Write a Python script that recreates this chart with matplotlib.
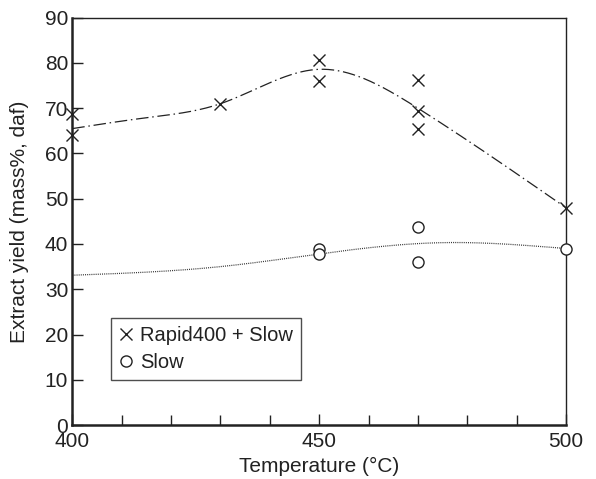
import numpy as np
import matplotlib
matplotlib.use("Agg")
import matplotlib.pyplot as plt
from matplotlib.ticker import MultipleLocator

plt.rcParams['font.family'] = ['Liberation Sans', 'DejaVu Sans']

# Measured extract yields (mass%, daf)
rapid_temp = [400, 400, 430, 450, 450, 470, 470, 470, 500]
rapid_yield = [68.7, 64.1, 71.0, 80.6, 76.0, 76.2, 69.4, 65.4, 47.9]

slow_temp = [450, 450, 470, 470, 500]
slow_yield = [38.8, 37.9, 43.7, 36.0, 38.9]

# Trend-line nodes
rapid_fit_temp = [400, 415, 430, 450, 470, 500]
rapid_fit_yield = [65.5, 67.9, 71.0, 78.6, 70.0, 48.0]
slow_fit_temp = [400, 430, 450, 475, 500]
slow_fit_yield = [33.1, 35.0, 37.8, 40.3, 39.0]


def natural_spline(xk, yk, xs):
    xk = np.asarray(xk, float)
    yk = np.asarray(yk, float)
    n = len(xk)
    h = np.diff(xk)
    A = np.zeros((n, n))
    b = np.zeros(n)
    A[0, 0] = A[-1, -1] = 1.0
    for i in range(1, n - 1):
        A[i, i - 1] = h[i - 1]
        A[i, i] = 2 * (h[i - 1] + h[i])
        A[i, i + 1] = h[i]
        b[i] = 6 * ((yk[i + 1] - yk[i]) / h[i] - (yk[i] - yk[i - 1]) / h[i - 1])
    M = np.linalg.solve(A, b)
    idx = np.clip(np.searchsorted(xk, xs) - 1, 0, n - 2)
    x0, x1 = xk[idx], xk[idx + 1]
    hh = x1 - x0
    t0 = x1 - xs
    t1 = xs - x0
    return (M[idx] * t0**3 / (6 * hh) + M[idx + 1] * t1**3 / (6 * hh)
            + (yk[idx] / hh - M[idx] * hh / 6) * t0
            + (yk[idx + 1] / hh - M[idx + 1] * hh / 6) * t1)


FS = 15
INK = '#222222'

fig = plt.figure(figsize=(5.96, 4.79), dpi=100)
ax = fig.add_axes([0.1213, 0.1127, 0.8284, 0.8503])

xs = np.linspace(400, 500, 400)
ax.plot(xs, natural_spline(rapid_fit_temp, rapid_fit_yield, xs), color=INK,
        lw=0.9, linestyle=(0, (10, 3, 1.2, 3)))
ax.plot(xs, natural_spline(slow_fit_temp, slow_fit_yield, xs), color='#333333',
        lw=0.9, linestyle=(0, (0.8, 0.9)))

ax.plot(rapid_temp, rapid_yield, linestyle='none', marker='x', ms=9, mew=1.0,
        color=INK, label='Rapid400 + Slow', clip_on=False, zorder=5)
ax.plot(slow_temp, slow_yield, linestyle='none', marker='o', ms=8, mew=1.0,
        mfc='white', mec=INK, label='Slow', clip_on=False, zorder=5)

ax.set_xlim(400, 500)
ax.set_ylim(0, 90)
ax.xaxis.set_major_locator(MultipleLocator(50))
ax.xaxis.set_minor_locator(MultipleLocator(10))
ax.yaxis.set_major_locator(MultipleLocator(10))

ax.tick_params(axis='both', which='both', direction='in', top=False, right=False,
               colors=INK, labelcolor=INK, labelsize=FS, width=1.0)
ax.tick_params(axis='both', which='major', length=8)
ax.tick_params(axis='y', which='major', pad=3)
ax.tick_params(axis='x', which='major', pad=5)
ax.tick_params(axis='x', which='minor', length=7)

for side in ['left', 'bottom']:
    ax.spines[side].set_linewidth(1.8)
    ax.spines[side].set_color(INK)
for side in ['top', 'right']:
    ax.spines[side].set_linewidth(1.0)
    ax.spines[side].set_color(INK)

ax.set_xlabel('Temperature (°C)', fontsize=FS, color=INK, labelpad=4)
ax.set_ylabel('Extract yield (mass%, daf)', fontsize=FS, color=INK, labelpad=11)

leg = ax.legend(loc='lower left', bbox_to_anchor=(0.078, 0.11), borderaxespad=0,
                fontsize=14.5, frameon=True, fancybox=False, handlelength=0.7,
                handletextpad=0.35, borderpad=0.4, labelspacing=0.4,
                edgecolor=INK)
leg.get_frame().set_linewidth(1.0)
for t in leg.get_texts():
    t.set_color(INK)

fig.savefig('out.png', dpi=100)
